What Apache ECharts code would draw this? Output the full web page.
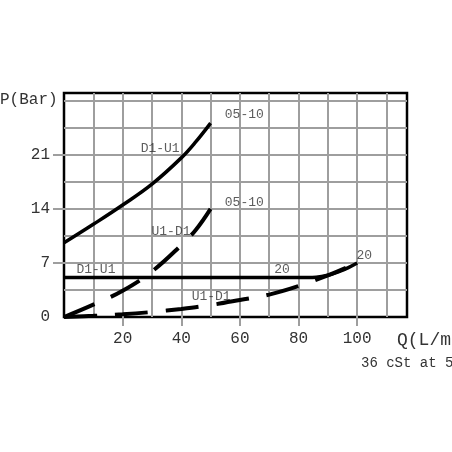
<!DOCTYPE html>
<html>
<head>
<meta charset="utf-8">
<script src="https://cdn.jsdelivr.net/npm/echarts@6/dist/echarts.min.js"></script>
<style>
  html, body { margin: 0; padding: 0; background: #fff; }
  #chart { width: 452px; height: 452px; }
</style>
</head>
<body>
<div id="chart"></div>
<script>
// flow Q (L/min) and pressure P (bar)
var qSolid0510 = [0, 10, 20, 30, 40, 45, 50];
var pSolid0510 = [9.6, 12.0, 14.5, 17.2, 20.6, 22.7, 25.1];

var qDash0510 = [0, 10, 20, 30, 40, 45, 50];
var pDash0510 = [0, 1.6, 3.4, 5.9, 9.3, 11.3, 14.0];

var qSolid20 = [0, 40, 80, 86, 90, 94, 97, 100];
var pSolid20 = [5.1, 5.1, 5.1, 5.15, 5.4, 5.9, 6.4, 7.0];

var qDash20 = [0, 10, 20, 30, 40, 50, 60, 70, 80, 90, 100];
var pDash20 = [0, 0.15, 0.35, 0.65, 1.05, 1.55, 2.2, 2.9, 4.0, 5.4, 7.0];

// curve tags
var noteText = ['05-10', 'D1-U1', '05-10', 'U1-D1', 'D1-U1', '20', 'U1-D1', '20'];
var noteQ = [61.5, 32.8, 61.5, 36.5, 10.9, 74.4, 50.2, 102.4];
var noteP = [26.2, 21.8, 14.8, 11.1, 6.1, 6.1, 2.7, 8.0];

var xTicks = [20, 40, 60, 80, 100];
var yTicks = [7, 14, 21];
var yLabels = [0, 7, 14, 21];

var mono = 'Liberation Mono';

function pairs(xs, ys) {
  return xs.map(function (x, i) { return [x, ys[i]]; });
}

var chart = echarts.init(document.getElementById('chart'));

var gridLine = { show: true, showMinLine: false, showMaxLine: false, lineStyle: { color: '#9e9e9e', width: 2 } };

function curve(data, dashed) {
  return {
    type: 'line',
    data: data,
    smooth: 0.4,
    showSymbol: false,
    silent: true,
    lineStyle: {
      color: '#000',
      width: dashed ? 4 : 3.5,
      type: dashed ? [33, 18] : 'solid',
      cap: 'butt'
    },
    z: 3
  };
}

chart.setOption({
  animation: false,
  backgroundColor: '#fff',
  title: [
    { text: 'P(Bar)', left: 0, top: 92, padding: 0,
      textStyle: { fontFamily: mono, fontSize: 16, fontWeight: 'normal', color: '#333' } },
    { text: 'Q(L/min)', left: 397, top: 331, padding: 0,
      textStyle: { fontFamily: mono, fontSize: 18, fontWeight: 'normal', color: '#333' } },
    { text: '36 cSt at 50°C', left: 361, top: 356, padding: 0,
      textStyle: { fontFamily: mono, fontSize: 14, fontWeight: 'normal', color: '#333' } }
  ],
  grid: {
    left: 64, top: 93, right: 45, bottom: 135,
    show: true, borderColor: '#000', borderWidth: 2.5, backgroundColor: 'transparent'
  },
  xAxis: [
    {
      type: 'value', min: 0, max: 117, interval: 10,
      axisLine: { show: false }, axisTick: { show: false }, axisLabel: { show: false },
      splitLine: gridLine
    },
    {
      type: 'value', min: 0, max: 117, interval: 10, position: 'bottom',
      axisLine: { show: false },
      splitLine: { show: false },
      axisTick: { show: true, customValues: xTicks, length: 9, lineStyle: { color: '#9e9e9e', width: 2 } },
      axisLabel: { customValues: xTicks, margin: 14, fontFamily: mono, fontSize: 16, color: '#333' }
    }
  ],
  yAxis: [
    {
      type: 'value', min: 0, max: 29, interval: 3.5, position: 'left',
      axisLine: { show: false }, axisTick: { show: false }, axisLabel: { show: false },
      splitLine: gridLine
    },
    {
      type: 'value', min: 0, max: 29, interval: 3.5, position: 'left',
      axisLine: { show: false },
      splitLine: { show: false },
      axisTick: { show: true, customValues: yTicks, length: 11, lineStyle: { color: '#9e9e9e', width: 2 } },
      axisLabel: { customValues: yLabels, margin: 14, fontFamily: mono, fontSize: 16, color: '#333' }
    }
  ],
  series: [
    curve(pairs(qSolid0510, pSolid0510), false),
    curve(pairs(qDash0510, pDash0510), true),
    curve(pairs(qSolid20, pSolid20), false),
    curve(pairs(qDash20, pDash20), true),
    {
      type: 'scatter',
      symbolSize: 0,
      silent: true,
      data: noteText.map(function (t, i) { return [noteQ[i], noteP[i], t]; }),
      label: {
        show: true, position: 'inside',
        formatter: function (p) { return p.value[2]; },
        fontFamily: mono, fontSize: 13, color: '#333'
      },
      z: 4
    }
  ]
});
</script>
</body>
</html>
